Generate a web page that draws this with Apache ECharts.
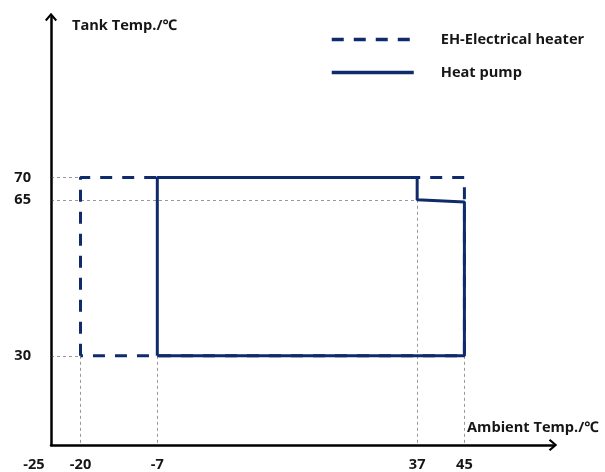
<!DOCTYPE html>
<html>
<head>
<meta charset="utf-8">
<script src="https://cdn.jsdelivr.net/npm/echarts@6/dist/echarts.min.js"></script>
<style>
  html, body { margin: 0; padding: 0; background: #fff; }
  #chart { width: 605px; height: 472px; }
</style>
</head>
<body>
<div id="chart"></div>
<script>
// working range of the unit (ambient temp vs tank temp)
const xTicks = [-25, -20, -7, 37, 45]
const yTicks = [30, 65, 70]

// EH-Electrical heater outline
const ehPoints = [[-20, 30], [-20, 70], [45, 70], [45, 30], [-20, 30]]
// heat pump outline
const hpPoints = [[-7, 30], [-7, 70], [37, 70], [37, 65], [45, 64.5], [45, 30], [-7, 30]]

// thin dashed guide lines to the axes
const guides = [
  [[-25, 70], [-20, 70]],
  [[-25, 65], [37, 65]],
  [[-25, 30], [-20, 30]],
  [[-20, 30], [-20, 10]],
  [[-7, 30], [-7, 10]],
  [[37, 65], [37, 10]],
  [[45, 30], [45, 10]]
]

const navy = "#0f2b6b"
const ink = "#161616"
const font = "'Open Sans', 'Noto Sans', sans-serif"
const fs = 14.6
// open chevron arrow head, pointing up (rotated by the axis)
const arrow = "path://M6,0 L12,7 L10.5,8.5 L6,3.2 L1.5,8.5 L0,7 Z"

const chart = echarts.init(document.getElementById("chart"))
const option = {
  animation: false,
  textStyle: { fontFamily: font },
  grid: { left: 51, right: 52, top: 17, bottom: 25 },
  legend: {
    orient: "vertical",
    left: 325,
    top: 27,
    itemWidth: 82,
    itemHeight: 14,
    itemGap: 18,
    itemStyle: { opacity: 0 },
    lineStyle: { width: 3.5 },
    textStyle: {
      fontFamily: font,
      fontSize: fs,
      fontWeight: "bold",
      color: ink,
      padding: [0, 0, 0, 22]
    },
    data: ["EH-Electrical heater", "Heat pump"]
  },
  xAxis: {
    type: "value",
    min: -25,
    max: 60,
    name: "Ambient Temp./℃",
    nameLocation: "end",
    nameGap: -86,
    nameTextStyle: {
      fontFamily: font,
      fontSize: fs,
      fontWeight: "bold",
      color: ink,
      align: "left",
      verticalAlign: "bottom",
      padding: [0, 0, 10, 0]
    },
    axisLine: {
      onZero: false,
      symbol: ["none", arrow],
      symbolSize: [12, 10],
      lineStyle: { color: "#000", width: 2.5 }
    },
    axisTick: { show: false },
    splitLine: { show: false },
    axisLabel: {
      customValues: xTicks,
      margin: 12,
      fontSize: fs,
      fontWeight: "bold",
      color: ink,
      formatter: (v) => (v === -25 ? "{o|" + v + "}" : String(v)),
      rich: {
        o: { fontSize: fs, fontWeight: "bold", color: ink, padding: [0, 34, 4, 0] }
      }
    }
  },
  yAxis: {
    type: "value",
    min: 10,
    max: 106,
    name: "Tank Temp./℃",
    nameLocation: "end",
    nameGap: -9,
    nameTextStyle: {
      fontFamily: font,
      fontSize: fs,
      fontWeight: "bold",
      color: ink,
      align: "left",
      verticalAlign: "middle",
      padding: [0, 0, 0, 21]
    },
    axisLine: {
      onZero: false,
      symbol: ["none", arrow],
      symbolSize: [12, 10],
      lineStyle: { color: "#000", width: 2.5 }
    },
    axisTick: { show: false },
    splitLine: { show: false },
    axisLabel: {
      customValues: yTicks,
      margin: 20,
      fontSize: fs,
      fontWeight: "bold",
      color: ink
    }
  },
  series: [
    {
      name: "guides",
      type: "lines",
      coordinateSystem: "cartesian2d",
      silent: true,
      z: 1,
      lineStyle: { color: "#333", width: 1, type: [3, 3] },
      data: guides.map((g) => ({ coords: g }))
    },
    {
      name: "EH-Electrical heater",
      type: "line",
      symbol: "none",
      z: 2,
      color: navy,
      lineStyle: { color: navy, width: 3, type: [12, 10] },
      data: ehPoints
    },
    {
      name: "Heat pump",
      type: "line",
      symbol: "none",
      z: 3,
      color: navy,
      lineStyle: { color: navy, width: 3 },
      data: hpPoints
    }
  ]
}
chart.setOption(option)
</script>
</body>
</html>
